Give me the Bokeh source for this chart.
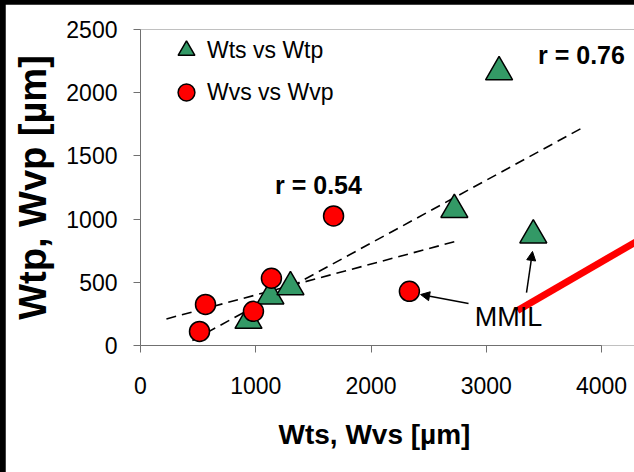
import numpy as np
from bokeh.plotting import figure
from bokeh.models import (Range1d, Legend, LegendItem, Arrow, NormalHead,
                          FixedTicker, Title)
from bokeh.core.properties import value
from bokeh.layouts import column
from bokeh.embed import file_html
from bokeh.resources import INLINE

# ---- data ----
wts = [937, 1127, 1301, 2723, 3111, 3408]
wtp = [198, 390, 464, 1075, 2164, 873]
wvs = [512, 564, 980, 1136, 1675, 2333]
wvp = [111, 325, 270, 532, 1025, 429]

trend_t_x = [450, 3840]
trend_v_x = [225, 2767]

r_text = ["r = 0.76", "r = 0.54"]
r_x = [3826, 1544]
r_y = [2302, 1266]

mmil_text = ["MMIL"]
mmil_x = [3193]
mmil_y = [229]

arrow_x0 = [2846, 3349]
arrow_y0 = [332, 419]
arrow_x1 = [2430, 3401]
arrow_y1 = [403, 744]

red_x = [3271, 4400]
red_y = [277, 874]

x_ticks = [0, 1000, 2000, 3000, 4000]
y_ticks = [0, 500, 1000, 1500, 2000, 2500]

x_title = "Wts, Wvs [µm]"
y_title = "Wtp, Wvp [µm]"

FONT = "Liberation Sans"

p = figure(width=629, height=468, output_backend="svg", toolbar_location=None,
           x_range=Range1d(0, 4286), y_range=Range1d(0, 2500),
           min_border_left=135, min_border_right=0, min_border_top=25,
           min_border_bottom=127, margin=(4, 0, 0, 5))
p.outline_line_color = None
p.grid.visible = False
p.background_fill_color = "white"
p.border_fill_color = "white"

# trend lines (least squares)
ct = np.polyfit(wts, wtp, 1)
cv = np.polyfit(wvs, wvp, 1)
p.line(trend_t_x, np.polyval(ct, trend_t_x), line_color="black", line_width=1.6,
       line_dash="10 6")
p.line(trend_v_x, np.polyval(cv, trend_v_x), line_color="black", line_width=1.6,
       line_dash="10 6")

tri = p.scatter(wts, wtp, marker="triangle", size=27, fill_color="#339966",
                line_color="black", line_width=1.5)
cir = p.scatter(wvs, wvp, marker="circle", size=20, fill_color="#FF0000",
                line_color="black", line_width=1.5)

p.line(red_x, red_y, line_color="#FF0000", line_width=7)

for i in range(len(arrow_x0)):
    p.add_layout(Arrow(end=NormalHead(size=9, fill_color="black", line_color="black"),
                       x_start=arrow_x0[i], y_start=arrow_y0[i],
                       x_end=arrow_x1[i], y_end=arrow_y1[i],
                       line_color="black", line_width=1.5))

p.text(x=r_x, y=r_y, text=r_text, text_font=value(FONT), text_font_style="bold",
       text_font_size="25px", text_align="center", text_baseline="middle",
       text_color="black")
p.text(x=mmil_x, y=mmil_y, text=mmil_text, text_font=value(FONT),
       text_font_size="27px", text_align="center", text_baseline="middle",
       text_color="black")

for ax in (p.xaxis[0], p.yaxis[0]):
    ax.axis_line_color = "#707070"
    ax.major_tick_line_color = "#707070"
    ax.minor_tick_line_color = None
    ax.major_tick_in = 0
    ax.major_tick_out = 7
    ax.major_label_text_font = FONT
    ax.major_label_text_font_size = "23px"
    ax.major_label_text_color = "black"
    ax.axis_label_text_font = FONT
    ax.axis_label_text_font_style = "bold"
    ax.axis_label_text_color = "black"

p.xaxis.bounds = (0, 4000)
p.yaxis.bounds = (0, 2500)
p.xaxis.ticker = FixedTicker(ticks=x_ticks)
p.yaxis.ticker = FixedTicker(ticks=y_ticks)
p.yaxis.axis_label = y_title
p.yaxis.axis_label_text_font_size = "38px"
p.xaxis.major_label_standoff = 24
p.yaxis.major_label_standoff = 16
p.yaxis.axis_label_standoff = 9

p.add_layout(Title(text=x_title, align="left", offset=138, text_font=FONT,
                   text_font_style="bold", text_font_size="28px",
                   text_color="black", standoff=41), "below")

legend = Legend(items=[LegendItem(label="Wts vs Wtp", renderers=[tri]),
                       LegendItem(label="Wvs vs Wvp", renderers=[cir])],
                location=(25, 232), orientation="vertical",
                glyph_width=42, glyph_height=42, label_height=42, spacing=0,
                label_standoff=-5, padding=0, margin=0,
                border_line_color=None, background_fill_alpha=0,
                label_text_font=FONT, label_text_font_size="23px",
                label_text_color="black")
p.add_layout(legend)

layout = column(p, styles={"background-color": "black"}, margin=0)
open("out.html", "w").write(file_html(layout, INLINE))
